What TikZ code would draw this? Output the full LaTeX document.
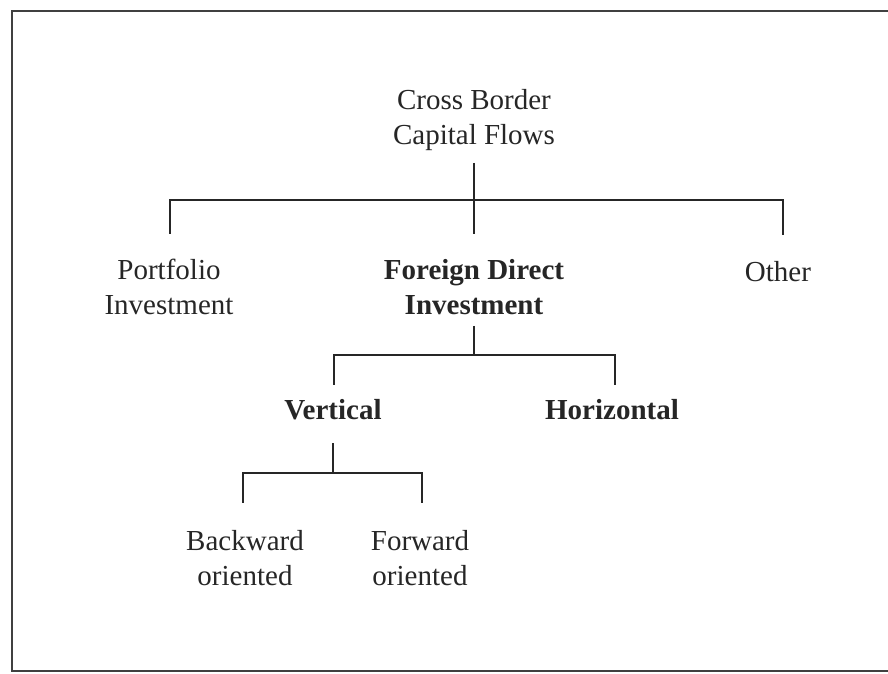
\documentclass[tikz,border=0pt]{standalone}
\usepackage{fontspec}
\setmainfont{Liberation Serif}
\begin{document}
\begin{tikzpicture}[x=1pt,y=-1pt,
  lbl/.style={align=center,inner sep=0pt,font=\fontsize{29}{35}\selectfont,text=black!85},
  blbl/.style={lbl,font=\fontsize{29}{35}\selectfont\bfseries},
  conn/.style={line width=1.8pt,draw=black!85},
  frame/.style={line width=2pt,draw=black!75}]
\useasboundingbox (0,0) rectangle (888,673);
\fill[white] (0,0) rectangle (888,673);
\draw[frame] (888,11) -- (12,11) -- (12,671) -- (888,671);

\node[lbl] (root) at (474,120) {Cross Border\\Capital Flows};
\node[lbl] (pi) at (169,287) {Portfolio\\Investment};
\node[blbl] (fdi) at (474,287) {Foreign Direct\\Investment};
\node[lbl] (oth) at (778,272) {Other};
\node[blbl] (ver) at (333,410) {Vertical};
\node[blbl] (hor) at (612,410) {Horizontal};
\node[lbl] (bw) at (245,558) {Backward\\oriented};
\node[lbl] (fw) at (420,558) {Forward\\oriented};

\coordinate (j1) at (474,200);
\coordinate (j2) at (474,355);
\coordinate (j3) at (333,473);

\draw[conn] (root.south) ++(0,12) -- (j1);
\draw[conn] (j1) -| ([xshift=1pt,yshift=25pt]pi.north);
\draw[conn] (j1) -| ([xshift=5pt,yshift=27pt]oth.north);
\draw[conn] (j1) -- ([yshift=25pt]fdi.north);
\draw[conn] (fdi.south) ++(0,11) -- (j2);
\draw[conn] (j2) -| ([xshift=1pt,yshift=15pt]ver.north);
\draw[conn] (j2) -| ([xshift=3pt,yshift=15pt]hor.north);
\draw[conn] (ver.south) ++(0,23) -- (j3);
\draw[conn] (j3) -| ([xshift=-2pt,yshift=27pt]bw.north);
\draw[conn] (j3) -| ([xshift=2pt,yshift=27pt]fw.north);
\end{tikzpicture}
\end{document}
